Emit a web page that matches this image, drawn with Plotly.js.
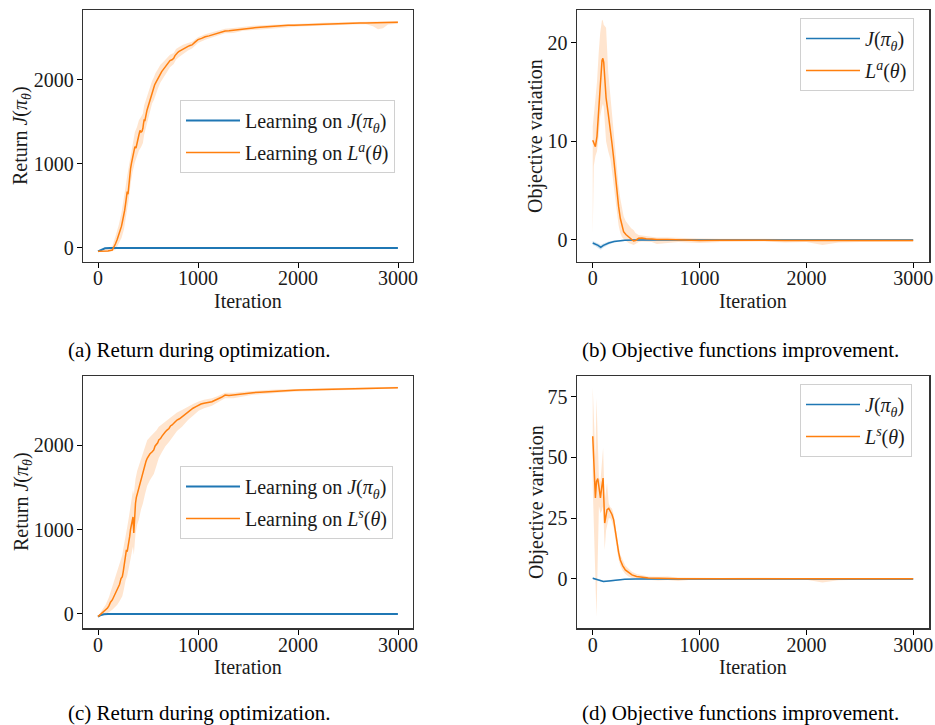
<!DOCTYPE html>
<html>
<head>
<meta charset="utf-8">
<script src="https://cdn.plot.ly/plotly-3.0.1.min.js"></script>
<style>html,body{margin:0;padding:0;background:#fff;}#chart{width:935px;height:725px;}</style>
</head>
<body>
<div id="chart"></div>
<script>
// ---------- Panel (a): Return, learning on L^a ----------
const iterA = [0,50,100,143,160,175,192,209,222,235,247,259,267,275,283,292,300,309,318,326,335,345,357,369,380,390,400,409,420,430,440,449,455,462,468,475,483,490,500,508,517,525,533,541,550,558,566,574,587,600,612,624,637,650,670,691,705,720,740,757,770,780,795,807,830,850,875,900,920,940,970,1000,1036,1072,1110,1150,1175,1200,1235,1271,1310,1354,1400,1450,1500,1550,1620,1686,1740,1800,1850,1900,1960,2018,2080,2150,2200,2250,2300,2350,2400,2450,2500,2550,2620,2680,2720,2750,2780,2800,2830,2850,2880,2900,2950,2999];
const meanA = [-40,-38,-35,-25,10,50,100,155,215,260,330,393,450,520,600,670,640,780,880,949,1010,1080,1150,1206,1190,1260,1320,1345,1400,1380,1390,1425,1480,1530,1510,1583,1600,1640,1680,1702,1750,1790,1830,1861,1880,1900,1940,1960,1990,2020,2050,2080,2100,2120,2150,2179,2200,2230,2240,2258,2290,2310,2325,2337,2355,2370,2390,2400,2410,2417,2450,2480,2495,2515,2525,2540,2548,2560,2570,2583,2585,2592,2600,2610,2612,2620,2628,2635,2640,2645,2647,2650,2652,2655,2657,2660,2663,2665,2664,2667,2670,2672,2673,2675,2677,2678,2679,2680,2678,2682,2680,2679,2683,2685,2686,2688];
const iterAband = [0,50,100,143,175,209,235,259,275,292,309,326,345,369,390,409,430,449,462,475,490,508,525,541,558,574,600,624,650,691,720,757,780,807,850,900,940,1000,1072,1150,1200,1271,1354,1450,1550,1686,1800,1900,2018,2150,2250,2350,2450,2550,2680,2750,2800,2850,2900,2999];
const hiA = [-30,-25,-10,20,140,280,420,580,720,860,980,1130,1260,1380,1440,1520,1560,1600,1700,1750,1800,1860,1930,1990,2030,2080,2130,2180,2210,2260,2300,2320,2370,2390,2420,2440,2455,2510,2545,2570,2585,2610,2620,2635,2645,2655,2662,2668,2672,2676,2680,2682,2687,2690,2693,2696,2698,2697,2700,2702];
const loA = [-48,-48,-45,-40,-20,60,120,220,330,480,590,760,900,1020,1090,1160,1200,1250,1350,1410,1470,1540,1630,1720,1760,1820,1900,1970,2020,2090,2150,2190,2240,2270,2310,2350,2375,2440,2480,2505,2530,2555,2560,2585,2595,2610,2625,2632,2638,2644,2650,2652,2657,2660,2662,2640,2603,2615,2660,2668];
const iterAJ = [0,40,70,120,2999];
const meanAJ = [-40,-15,-3,0,0];

// ---------- Panel (b): objective variation, L^a ----------
const iterB = [0,10,25,40,56,70,87,95,103,115,125,145,165,180,196,212,227,242,258,273,289,310,336,360,382,400,429,460,500,553,600,700,800,900,1000,1200,1400,1600,1800,2000,2150,2300,2500,2700,2999];
const meanB = [10.1,9.8,9.45,10.5,12.7,15.5,18.2,18.4,18.0,16.0,14.4,12.8,11.3,9.8,8.3,6.5,4.9,3.4,2.2,1.4,0.85,0.55,0.34,0.1,-0.1,-0.05,0.17,0.2,0.12,0.1,0.05,0.05,0.0,-0.05,-0.05,-0.03,0.0,-0.02,-0.04,-0.05,-0.08,-0.06,-0.05,-0.05,-0.05];
const hiB = [11.5,12.5,14,16,19,21,22.3,22.2,21.8,21.6,21.5,17,14.5,12.7,11,8.7,7.5,5.5,4.2,3.2,2.4,1.9,1.5,1.2,1.0,0.7,0.5,0.45,0.4,0.3,0.25,0.25,0.2,0.15,0.15,0.12,0.15,0.12,0.1,0.1,0.1,0.1,0.08,0.08,0.08];
const loB = [0.5,7.5,8.5,9,10.5,12.5,13.5,13.8,13.5,11.5,10,9,8.2,7,5.5,4,2.5,1.5,0.7,0.3,0.1,-0.1,-0.3,-0.4,-0.5,-0.4,-0.2,-0.15,-0.2,-0.2,-0.4,-0.3,-0.2,-0.25,-0.3,-0.2,-0.15,-0.15,-0.25,-0.2,-0.5,-0.25,-0.2,-0.2,-0.18];
const iterBJ = [0,25,50,75,100,150,200,300,400,2999];
const meanBJ = [-0.3,-0.4,-0.55,-0.75,-0.55,-0.3,-0.15,-0.02,0,0];
const hiBJ = [-0.1,-0.2,-0.35,-0.5,-0.35,-0.15,-0.05,0.05,0.05,0.03];
const loBJ = [-0.5,-0.6,-0.8,-1.0,-0.75,-0.45,-0.25,-0.1,-0.05,-0.03];

// ---------- Panel (c): Return, learning on L^s ----------
const iterC = [0,40,77,95,110,125,143,155,170,182,193,205,215,230,243,252,260,268,276,284,292,300,309,317,325,333,342,350,358,365,375,383,392,400,409,420,430,440,449,460,470,480,492,505,520,540,558,570,585,597,608,625,640,657,674,690,710,725,741,765,790,815,840,870,900,925,950,980,1006,1030,1060,1100,1139,1170,1200,1235,1271,1310,1354,1400,1450,1500,1550,1620,1686,1740,1800,1850,1900,1960,2018,2080,2150,2250,2350,2420,2500,2600,2700,2780,2850,2920,2999];
const meanC = [-32,10,47,70,100,140,166,200,230,270,285,330,350,420,442,500,560,620,680,760,740,790,838,920,1000,1060,1115,1150,960,1200,1313,1380,1420,1470,1490,1560,1600,1640,1668,1720,1760,1810,1846,1870,1900,1920,1945,1990,2010,2030,2063,2080,2110,2140,2162,2180,2200,2230,2241,2270,2300,2315,2340,2370,2400,2420,2440,2460,2478,2490,2500,2505,2518,2535,2550,2570,2597,2590,2597,2605,2610,2618,2625,2630,2636,2640,2645,2648,2650,2653,2656,2658,2660,2664,2668,2670,2675,2676,2678,2680,2682,2683,2684];
const iterCband = [0,40,77,110,143,170,193,215,243,260,276,292,309,325,342,350,358,365,375,392,409,430,449,470,492,520,558,585,608,640,674,710,741,790,840,900,950,1006,1060,1139,1200,1271,1354,1450,1550,1686,1800,1900,2018,2150,2350,2500,2700,2850,2999];
const hiC = [-25,40,110,200,320,420,500,590,700,820,950,1030,1150,1300,1420,1470,1420,1500,1600,1700,1760,1850,1920,1990,2060,2100,2140,2180,2220,2250,2290,2320,2350,2390,2420,2460,2490,2520,2540,2560,2585,2625,2625,2635,2648,2657,2663,2667,2672,2675,2682,2687,2690,2693,2695];
const loC = [-40,-20,0,20,50,80,110,150,210,300,400,450,540,650,760,800,700,850,950,1060,1120,1240,1310,1420,1520,1590,1660,1760,1850,1920,1990,2040,2090,2170,2220,2300,2350,2410,2440,2470,2510,2560,2560,2580,2600,2612,2625,2632,2640,2645,2654,2662,2665,2670,2673];
const iterCJ = [0,30,60,100,2999];
const meanCJ = [-32,-12,-3,0,0];

// ---------- Panel (d): objective variation, L^s ----------
const iterD = [0,12,25,35,47,58,72,85,97,112,125,134,150,165,180,196,212,227,242,258,280,305,335,367,410,460,520,615,700,800,900,1000,1200,1400,1600,1800,2000,2150,2300,2500,2700,2999];
const meanD = [58.7,45,33.3,40,41.3,38,33.3,38,41.5,23,27,28.5,29,27.8,26.5,24.3,19.5,14.7,11,7.8,5.5,3.7,2.6,1.65,1.0,0.7,0.4,0.3,0.35,0.1,0.05,0.05,0.05,0.05,0.05,0.05,0.05,0.0,0.05,0.05,0.05,0.05];
const hiD = [79,60,50,74.5,55,42,40,50,54,32,36,39.6,31,29.5,29,26.5,22,17,13.5,10,7.8,5.5,4.2,3.0,2.0,1.4,1.0,0.9,1.0,0.6,0.5,0.5,0.4,0.5,0.4,0.5,0.4,0.3,0.4,0.4,0.4,0.4];
const loD = [38,15,0,-15.5,12,30,27,28,30,12,20,22,25,25,23.5,21,16,11,8,5.5,3.5,2,1,0.4,0.1,-0.1,-0.3,-0.6,-0.4,-0.8,-0.4,-0.4,-0.3,-0.3,-0.3,-0.3,-0.3,-1.5,-0.5,-0.3,-0.3,-0.3];
const iterDJ = [0,50,100,150,200,300,400,2999];
const meanDJ = [0.3,-0.3,-1,-0.8,-0.5,-0.1,0,0];
const hiDJ = [0.7,0.1,-0.6,-0.4,-0.2,0.1,0.1,0.1];
const loDJ = [-0.1,-0.7,-1.4,-1.2,-0.8,-0.3,-0.1,-0.1];

// ---------- Text ----------
const xTitle = 'Iteration';
const yTitleReturn = 'Return <i>J</i>(<i>π<sub>θ</sub></i>)';
const yTitleObj = 'Objective variation';
const legA = ['Learning on <i>J</i>(<i>π<sub>θ</sub></i>)', 'Learning on <i>L<sup>a</sup></i>(<i>θ</i>)'];
const legB = ['<i>J</i>(<i>π<sub>θ</sub></i>)', '<i>L<sup>a</sup></i>(<i>θ</i>)'];
const legC = ['Learning on <i>J</i>(<i>π<sub>θ</sub></i>)', 'Learning on <i>L<sup>s</sup></i>(<i>θ</i>)'];
const legD = ['<i>J</i>(<i>π<sub>θ</sub></i>)', '<i>L<sup>s</sup></i>(<i>θ</i>)'];
const captions = ['(a) Return during optimization.', '(b) Objective functions improvement.', '(c) Return during optimization.', '(d) Objective functions improvement.'];
const xTicks = [0, 1000, 2000, 3000];
const yTicksReturn = [0, 1000, 2000];
const yTicksB = [0, 10, 20];
const yTicksD = [0, 25, 50, 75];

const BLUE = '#1f77b4', ORANGE = '#ff7f0e';
const BLUE_F = 'rgba(31,119,180,0.2)', ORANGE_F = 'rgba(255,127,14,0.2)';
const FONT = '"Liberation Serif", "Times New Roman", serif';
const TXT = '#1a1a1a';

const traces = [];
function band(x, lo, hi, color, xa, ya) {
  traces.push({x: x, y: lo, xaxis: xa, yaxis: ya, mode: 'lines', line: {width: 0, color: color}, showlegend: false, hoverinfo: 'skip'});
  traces.push({x: x, y: hi, xaxis: xa, yaxis: ya, mode: 'lines', line: {width: 0, color: color}, fill: 'tonexty', fillcolor: color, showlegend: false, hoverinfo: 'skip'});
}
let gid = 0;
function line(x, y, color, name, xa, ya, leg, w) {
  gid += 1;
  traces.push({x: x, y: y, xaxis: xa, yaxis: ya, mode: 'lines', line: {width: w || 1.5, color: color}, name: name, legend: leg, legendgroup: 'g' + gid, showlegend: true});
}
// (a)
band(iterAband, loA, hiA, ORANGE_F, 'x', 'y');
line(iterAJ, meanAJ, BLUE, legA[0], 'x', 'y', 'legend', 2);
line(iterA, meanA, ORANGE, legA[1], 'x', 'y', 'legend');
// (b)
band(iterBJ, loBJ, hiBJ, BLUE_F, 'x2', 'y2');
band(iterB, loB, hiB, ORANGE_F, 'x2', 'y2');
line(iterBJ, meanBJ, BLUE, legB[0], 'x2', 'y2', 'legend2');
line(iterB, meanB, ORANGE, legB[1], 'x2', 'y2', 'legend2');
// (c)
band(iterCband, loC, hiC, ORANGE_F, 'x3', 'y3');
line(iterCJ, meanCJ, BLUE, legC[0], 'x3', 'y3', 'legend3', 2);
line(iterC, meanC, ORANGE, legC[1], 'x3', 'y3', 'legend3');
// (d)
band(iterDJ, loDJ, hiDJ, BLUE_F, 'x4', 'y4');
band(iterD, loD, hiD, ORANGE_F, 'x4', 'y4');
line(iterDJ, meanDJ, BLUE, legD[0], 'x4', 'y4', 'legend4');
line(iterD, meanD, ORANGE, legD[1], 'x4', 'y4', 'legend4');

function xax(domain, anchor) {
  return {domain: domain, anchor: anchor, range: [-150, 3150], tickvals: xTicks, ticks: 'outside', ticklen: 5, tickwidth: 1, tickcolor: '#000',
    showline: true, mirror: true, linecolor: '#333', linewidth: 1.2, showgrid: false, zeroline: false, ticklabelstandoff: -7,
    tickfont: {family: FONT, size: 20, color: TXT}};
}
function yax(domain, anchor, range, ticks) {
  return {domain: domain, anchor: anchor, range: range, tickvals: ticks, ticks: 'outside', ticklen: 5, tickwidth: 1, tickcolor: '#000',
    showline: true, mirror: true, linecolor: '#333', linewidth: 1.2, showgrid: false, zeroline: false, ticklabelstandoff: -1,
    tickfont: {family: FONT, size: 20, color: TXT}};
}
function leg(x, y) {
  return {x: x, y: y, xanchor: 'left', yanchor: 'top', bgcolor: 'rgba(255,255,255,0.8)', bordercolor: '#d0d0d0', borderwidth: 1,
    font: {family: FONT, size: 20, color: TXT}, itemwidth: 54, traceorder: 'grouped', tracegroupgap: 3};
}
const xL = [83/935, 413/935], xR = [576.7/935, 929.3/935];
const yT = [1 - 262/725, 1 - 10/725], yB = [1 - 628.3/725, 1 - 375.7/725];

const ann = [];
function txt(text, x, y, size, angle) {
  ann.push({text: text, x: x / 935, y: 1 - y / 725, xref: 'paper', yref: 'paper', xanchor: 'center', yanchor: 'middle', showarrow: false,
    textangle: angle || 0, font: {family: FONT, size: size, color: size === 21 ? '#000' : TXT}});
}
// axis titles
txt(xTitle, 248, 301, 20); txt(xTitle, 753, 301, 20);
txt(xTitle, 248, 667, 20); txt(xTitle, 753, 667, 20);
txt(yTitleReturn, 22, 136, 20, -90); txt(yTitleObj, 536, 136, 20, -90);
txt(yTitleReturn, 22, 502, 20, -90); txt(yTitleObj, 536, 502, 20, -90);
// captions
txt(captions[0], 199, 350, 21); txt(captions[1], 740, 350, 21);
txt(captions[2], 199, 713, 21); txt(captions[3], 740, 713, 21);

const layout = {
  width: 935, height: 725, margin: {l: 0, r: 0, t: 0, b: 0}, paper_bgcolor: '#fff', plot_bgcolor: '#fff',
  showlegend: true,
  xaxis: xax(xL, 'y'), yaxis: yax(yT, 'x', [-167, 2833], yTicksReturn),
  xaxis2: xax(xR, 'y2'), yaxis2: yax(yT, 'x2', [-2.23, 23.3], yTicksB),
  xaxis3: xax(xL, 'y3'), yaxis3: yax(yB, 'x3', [-170, 2826], yTicksReturn),
  xaxis4: xax(xR, 'y4'), yaxis4: yax(yB, 'x4', [-20.3, 83.6], yTicksD),
  legend: leg(180/935, 1 - 100/725),
  legend2: leg(800/935, 1 - 18/725),
  legend3: leg(180/935, 1 - 466/725),
  legend4: leg(800/935, 1 - 384/725),
  annotations: ann
};
Plotly.newPlot('chart', traces, layout, {staticPlot: true, displayModeBar: false});
</script>
</body>
</html>
